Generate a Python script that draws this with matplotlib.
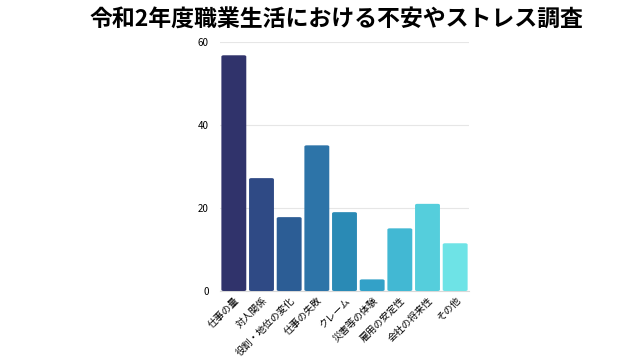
import matplotlib.pyplot as plt
from matplotlib.patches import FancyBboxPatch

plt.rcParams['font.family'] = ['Noto Sans CJK JP', 'DejaVu Sans']

# data
categories = ['仕事の量', '対人関係', '役割・地位の変化', '仕事の失敗', 'クレーム',
              '災害等の体験', '雇用の安定性', '会社の将来性', 'その他']
values = [56.8, 27.2, 17.8, 35.1, 19.0, 2.8, 15.1, 21.0, 11.5]
colors = ['#30336b', '#2f4a85', '#2c5d95', '#2d74a8', '#2a8ab5',
          '#33a1c8', '#42b8d3', '#55cedc', '#6ee3e6']

fig = plt.figure(figsize=(6.4, 3.6), dpi=100)
ax = fig.add_axes([220 / 640, 1 - 291 / 360, 249 / 640, 249 / 360])

bars = ax.bar(range(len(values)), values, width=0.9, color=colors, zorder=3)
# rounded corners
for b, c in zip(bars, colors):
    b.set_visible(False)
    p = FancyBboxPatch((b.get_x(), b.get_y()), b.get_width(), b.get_height(),
                       boxstyle='round,pad=0,rounding_size=0.08',
                       mutation_aspect=4, fc=c, ec='none', zorder=3)
    ax.add_patch(p)

ax.set_xlim(-0.5, len(values) - 0.5)
ax.set_ylim(0, 60)
ax.set_yticks([0, 20, 40, 60])
ax.grid(axis='y', color='#e6e6e6', linewidth=0.8, zorder=0)
for s in ['top', 'right', 'left']:
    ax.spines[s].set_visible(False)
ax.spines['bottom'].set_color('#d8d8d8')
ax.tick_params(axis='y', length=0, labelsize=7, pad=8)
ax.tick_params(axis='x', length=0, labelsize=7, pad=3)
ax.set_xticks(range(len(categories)))
ax.set_xticklabels(categories, rotation=45, ha='right', rotation_mode='anchor')

fig.text(0.525, 1 - 20 / 360, '令和2年度職業生活における不安やストレス調査',
         ha='center', va='center', fontsize=16.5, fontweight='bold')

fig.savefig('out.png', dpi=100)
